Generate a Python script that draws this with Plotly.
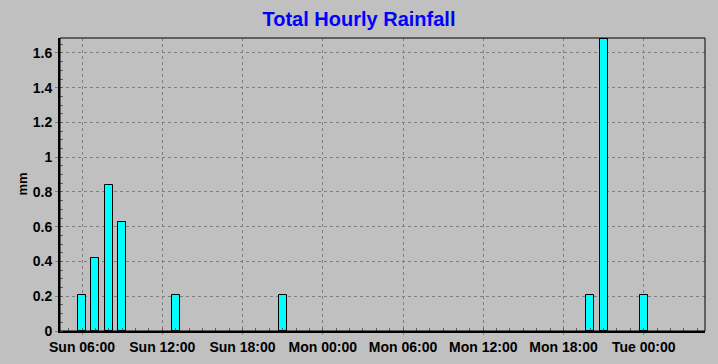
import plotly.graph_objects as go
import pandas as pd

times = ["2024-01-07 06:00", "2024-01-07 07:00", "2024-01-07 08:00", "2024-01-07 09:00",
         "2024-01-07 13:00", "2024-01-07 21:00", "2024-01-08 20:00", "2024-01-08 21:00",
         "2024-01-09 00:00"]
rain_mm = [0.21, 0.42, 0.84, 0.63, 0.21, 0.21, 0.21, 1.68, 0.21]
tick_vals = ["2024-01-07 06:00", "2024-01-07 12:00", "2024-01-07 18:00", "2024-01-08 00:00",
             "2024-01-08 06:00", "2024-01-08 12:00", "2024-01-08 18:00", "2024-01-09 00:00"]
y_ticks = [0, 0.2, 0.4, 0.6, 0.8, 1.0, 1.2, 1.4, 1.6]

x = pd.to_datetime(times)
fig = go.Figure()
fig.add_trace(go.Bar(
    x=x, y=rain_mm, width=0.6 * 3600 * 1000,
    marker=dict(color="#00FFFF", line=dict(color="black", width=1)),
))

x0 = pd.Timestamp("2024-01-07 04:21")
x1 = pd.Timestamp("2024-01-09 04:35")

fig.update_layout(
    width=718, height=364,
    paper_bgcolor="#C0C0C0", plot_bgcolor="#C0C0C0",
    margin=dict(l=60, r=13, t=38, b=33),
    showlegend=False,
    font=dict(family="Liberation Sans, Arial, sans-serif", size=13, color="black"),
    title=dict(text="<b>Total Hourly Rainfall</b>", x=0.5, xanchor="center",
               y=0.948, yanchor="middle", xref="container",
               font=dict(size=20, color="#0000FF")),
    bargap=0,
)
fig.update_xaxes(
    range=[x0, x1], tickvals=pd.to_datetime(tick_vals), tickformat="%a %H:%M",
    showgrid=True, gridcolor="#808080", griddash="3px,3px", gridwidth=1,
    showline=True, linecolor="black", linewidth=2,
    ticks="outside", ticklen=2, tickcolor="#808080", ticklabelstandoff=0,
    tickfont=dict(size=14, weight="bold"), zeroline=False, automargin=False,
    minor=dict(dtick=3600 * 1000, ticks="inside", ticklen=3, tickcolor="#606060", showgrid=False),
)
fig.update_yaxes(
    range=[0, 1.686], tickvals=y_ticks, ticktext=["0", "0.2", "0.4", "0.6", "0.8", "1", "1.2", "1.4", "1.6"],
    showgrid=True, gridcolor="#808080", griddash="3px,3px", gridwidth=1,
    showline=True, linecolor="black", linewidth=2,
    ticks="outside", ticklen=3, tickcolor="#808080",
    tickfont=dict(size=14, weight="bold"), zeroline=False, automargin=False,
    minor=dict(dtick=0.05, ticks="inside", ticklen=3, tickcolor="#606060", showgrid=False),
)
fig.add_annotation(text="<b>mm</b>", textangle=-90, xref="paper", yref="paper",
                   x=-(60 - 22) / 645, y=0.5, xanchor="center", yanchor="middle",
                   showarrow=False, font=dict(size=13))
fig.add_shape(type="rect", xref="paper", yref="paper", x0=0, y0=0, x1=1, y1=1,
              line=dict(color="black", width=1), layer="above")
fig.write_html("out.html")
